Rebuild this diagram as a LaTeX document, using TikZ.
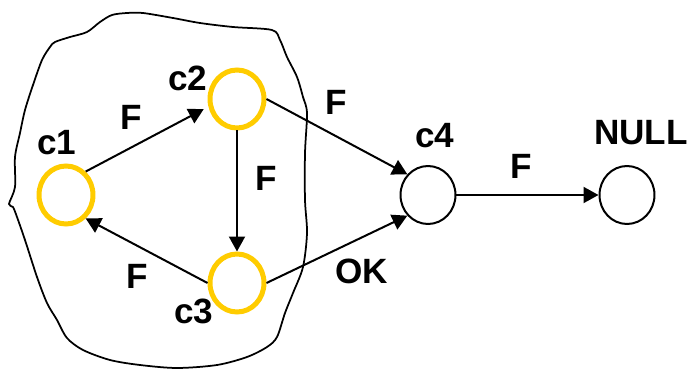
\documentclass[tikz,border=0pt]{standalone}
\usepackage{fontspec}
\setmainfont{Liberation Sans}
\usetikzlibrary{arrows.meta,shapes.geometric}
\definecolor{stategold}{RGB}{255,204,0}
\begin{document}
\begin{tikzpicture}[x=0.02cm, y=-0.02cm,
    every node/.style={font=\fontsize{20}{24}\selectfont\bfseries, inner sep=0pt},
    cls/.style={ellipse, draw=stategold, line width=0.1cm, minimum width=1.08cm, minimum height=1.16cm},
    sink/.style={ellipse, draw, line width=0.04cm, minimum width=1.1cm, minimum height=1.16cm},
    arr/.style={-{Triangle[length=0.3cm,width=0.32cm]}, line width=0.04cm}]
    \useasboundingbox (0,0) rectangle (691,372);

    % --- blob round the cycle ---
    \draw[line width=0.035cm] plot[smooth cycle, tension=0.5] coordinates {
        (9,204) (15,187) (15,157) (20,133) (25,110) (33,85) (42,60) (50,47)
        (55,42) (70,37) (87,32) (100,22) (112,15) (127,13) (143,13) (173,18)
        (200,23) (233,27) (272,30) (280,40) (287,57) (297,77) (303,97) (307,113)
        (305,153) (305,200) (307,233) (303,267) (293,293) (285,313) (277,337)
        (267,347) (247,357) (217,365) (177,368) (140,365) (110,360) (83,350)
        (67,338) (57,320) (47,303) (37,277) (25,240) (17,217) (13,207)};

    % --- states ---
    \node[cls] (c1) at (66,195) {};
    \node[cls] (c2) at (237,99) {};
    \node[cls] (c3) at (237,283) {};
    \node[sink] (c4) at (428,195) {};
    \node[sink] (null) at (627,195) {};

    \node (c1lbl) at (57,143) {c1};
    \node (c2lbl) at (188,78) {c2};
    \node (c3lbl) at (194,311) {c3};
    \node (c4lbl) at (435,136) {c4};
    \node (nulllbl) at (641,133) {NULL};

    % --- transitions ---
    \draw[arr, shorten >=3pt] (c1.50) -- (c2.195);
    \draw[arr] (c2.south) -- (c3.north);
    \draw[arr] (c3.west) -- (c1.-50);
    \draw[arr] (c2.east) -- (c4.135);
    \draw[arr] (c3.east) -- (c4.-135);
    \draw[arr] (c4.east) -- (null.west);

    \node (f12) at (131,117) {F};
    \node (f23) at (266,178) {F};
    \node (f31) at (137,276) {F};
    \node (f24) at (336,102) {F};
    \node (f4n) at (521,166) {F};
    \node (ok34) at (362,271) {OK};
\end{tikzpicture}
\end{document}
